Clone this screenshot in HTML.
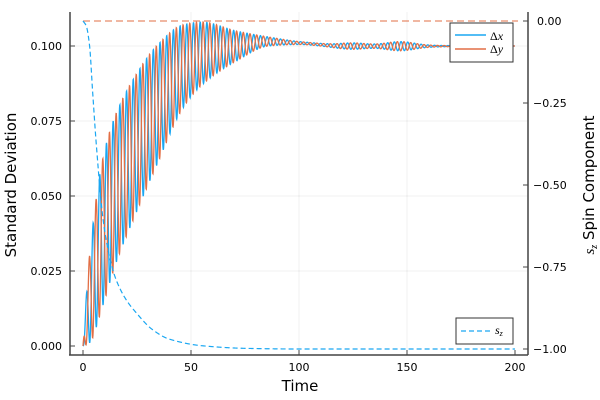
<!DOCTYPE html>
<html><head><meta charset="utf-8"><style>
html,body{margin:0;padding:0;background:#fff}
svg{display:block;font-family:"DejaVu Sans","Liberation Sans",sans-serif}
</style></head><body>
<svg id="s" width="600" height="400" xmlns="http://www.w3.org/2000/svg">
<rect width="600" height="400" fill="#fff"/>
<g stroke="#000" stroke-opacity="0.06" stroke-width="1">
<line x1="191" y1="12" x2="191" y2="355"/><line x1="299" y1="12" x2="299" y2="355"/><line x1="407" y1="12" x2="407" y2="355"/>
<line x1="70" y1="271" x2="528" y2="271"/><line x1="70" y1="196" x2="528" y2="196"/><line x1="70" y1="121" x2="528" y2="121"/><line x1="70" y1="46" x2="528" y2="46"/>
</g>
<g id="plot"></g>
<g stroke="#444" stroke-width="1.5" fill="none">
<line x1="70" y1="12" x2="70" y2="355"/><line x1="69" y1="355" x2="528" y2="355"/><line x1="528" y1="12" x2="528" y2="355"/>
</g>
<g stroke="#444" stroke-width="1">
<line x1="70" y1="346" x2="75" y2="346"/><line x1="70" y1="271" x2="75" y2="271"/><line x1="70" y1="196" x2="75" y2="196"/><line x1="70" y1="121" x2="75" y2="121"/><line x1="70" y1="46" x2="75" y2="46"/>
<line x1="83" y1="355" x2="83" y2="350"/><line x1="191" y1="355" x2="191" y2="350"/><line x1="299" y1="355" x2="299" y2="350"/><line x1="407" y1="355" x2="407" y2="350"/><line x1="515" y1="355" x2="515" y2="350"/>
<line x1="523" y1="21" x2="528" y2="21"/><line x1="523" y1="103" x2="528" y2="103"/><line x1="523" y1="185" x2="528" y2="185"/><line x1="523" y1="267" x2="528" y2="267"/><line x1="523" y1="349" x2="528" y2="349"/>
</g>
<g font-size="11" fill="#000" text-anchor="end">
<text x="62" y="350">0.000</text><text x="62" y="275">0.025</text><text x="62" y="200">0.050</text><text x="62" y="125">0.075</text><text x="62" y="50">0.100</text>
</g>
<g font-size="11" fill="#000" text-anchor="start">
<text x="537" y="25">0.00</text><text x="533" y="107">−0.25</text><text x="533" y="189">−0.50</text><text x="533" y="271">−0.75</text><text x="533" y="353">−1.00</text>
</g>
<g font-size="11" fill="#000" text-anchor="middle">
<text x="83" y="371">0</text><text x="191" y="371">50</text><text x="299" y="371">100</text><text x="407" y="371">150</text><text x="515" y="371">200</text>
</g>
<text x="300" y="391" font-size="15" text-anchor="middle">Time</text>
<text transform="translate(16,185) rotate(-90)" font-size="15" text-anchor="middle">Standard Deviation</text>
<text transform="translate(594,185) rotate(-90)" font-size="15" text-anchor="middle"><tspan font-family="Liberation Serif,serif" font-style="italic">s</tspan><tspan font-family="Liberation Serif,serif" font-style="italic" font-size="10" dy="3">z</tspan><tspan dy="-3"> Spin Component</tspan></text>
<g>
<rect x="450" y="23" width="63" height="39" fill="#fff" stroke="#333" stroke-width="1"/>
<line x1="455" y1="35" x2="486" y2="35" stroke="#1aa7f2" stroke-width="1.5"/>
<line x1="455" y1="49" x2="486" y2="49" stroke="#e26f46" stroke-width="1.5"/>
<text x="490" y="40" font-size="12" font-family="Liberation Serif,serif">Δ<tspan font-style="italic">x</tspan></text>
<text x="490" y="53" font-size="12" font-family="Liberation Serif,serif">Δ<tspan font-style="italic">y</tspan></text>
<rect x="456" y="318" width="57" height="26" fill="#fff" stroke="#333" stroke-width="1"/>
<line x1="461" y1="331" x2="492" y2="331" stroke="#1aa7f2" stroke-width="1.2" stroke-dasharray="5,3"/>
<text x="495" y="334" font-size="12" font-family="Liberation Serif,serif" font-style="italic">s<tspan font-size="8" dy="2">z</tspan></text>
</g>
</svg>
<script>
(function(){
function mk(pts){
 var n=pts.length,d=[],m=[];
 for(var k=0;k<n-1;k++)d.push((pts[k+1][1]-pts[k][1])/(pts[k+1][0]-pts[k][0]));
 m[0]=d[0];m[n-1]=d[n-2];
 for(k=1;k<n-1;k++){ if(d[k-1]*d[k]<=0)m[k]=0; else m[k]=2/(1/d[k-1]+1/d[k]); }
 return function(t){
  for(var k=1;k<n;k++){ if(t<=pts[k][0]){var a=pts[k-1],b=pts[k],h=b[0]-a[0],s=(t-a[0])/h;
   var h00=2*s*s*s-3*s*s+1,h10=s*s*s-2*s*s+s,h01=-2*s*s*s+3*s*s,h11=s*s*s-s*s;
   return h00*a[1]+h10*h*m[k-1]+h01*b[1]+h11*h*m[k];}}
  return pts[n-1][1];
 };
}
var U_=mk([[0,0],[3,0.03],[9,0.062],[15,0.077],[25,0.091],[34,0.100],[46,0.107],[55,0.108],[71,0.105],[86,0.103],[100,0.1015],[120,0.1005],[200,0.1]]);
var L_=mk([[0,0],[3,0.001],[9,0.013],[15,0.027],[25,0.045],[34,0.060],[46,0.079],[55,0.087],[71,0.095],[86,0.100],[100,0.1005],[120,0.0995],[200,0.1]]);
var S_=mk([[0,0],[1.5,-0.015],[3,-0.073],[4.5,-0.22],[6.2,-0.38],[9.2,-0.60],[12,-0.71],[15.4,-0.79],[20,-0.85],[24.7,-0.89],[32,-0.94],[40,-0.97],[55,-0.99],[75,-0.998],[100,-1],[200,-1]]);
var X=function(t){return 83+t*2.16;};
var Y=function(v){return 346-v*3000;};
var Y2=function(v){return 21-v*328;};
var px=[],py=[],ps=[];
for(var i=0;i<=2000;i++){
 var t=i*0.1;
 var U=U_(t),L=L_(t);
 var m=(U+L)/2,a=(U-L)/2;
 a+=0.0012*Math.exp(-Math.pow((t-147)/9,2))+0.0006*Math.exp(-Math.pow((t-125)/8,2));
 var w=2*Math.PI*t/3.1;
 px.push(X(t).toFixed(2)+","+Y(m-a*Math.cos(w)).toFixed(2));
 py.push(X(t).toFixed(2)+","+Y(m-a*Math.cos(w-2.8)).toFixed(2));
 ps.push(X(t).toFixed(2)+","+Y2(Math.max(-1,Math.min(0,S_(t)))).toFixed(2));
}
var g=document.getElementById('plot');
g.innerHTML='<line x1="83" y1="21" x2="518" y2="21" stroke="#e26f46" stroke-width="1" stroke-dasharray="7,4"/>'+
'<polyline fill="none" stroke="#1aa7f2" stroke-width="1.3" points="'+px.join(' ')+'"/>'+
'<polyline fill="none" stroke="#e26f46" stroke-width="1.3" points="'+py.join(' ')+'"/>'+
'<polyline fill="none" stroke="#1aa7f2" stroke-width="1.2" stroke-dasharray="5,3" points="'+ps.join(' ')+'"/>';
})();
</script>
</body></html>
